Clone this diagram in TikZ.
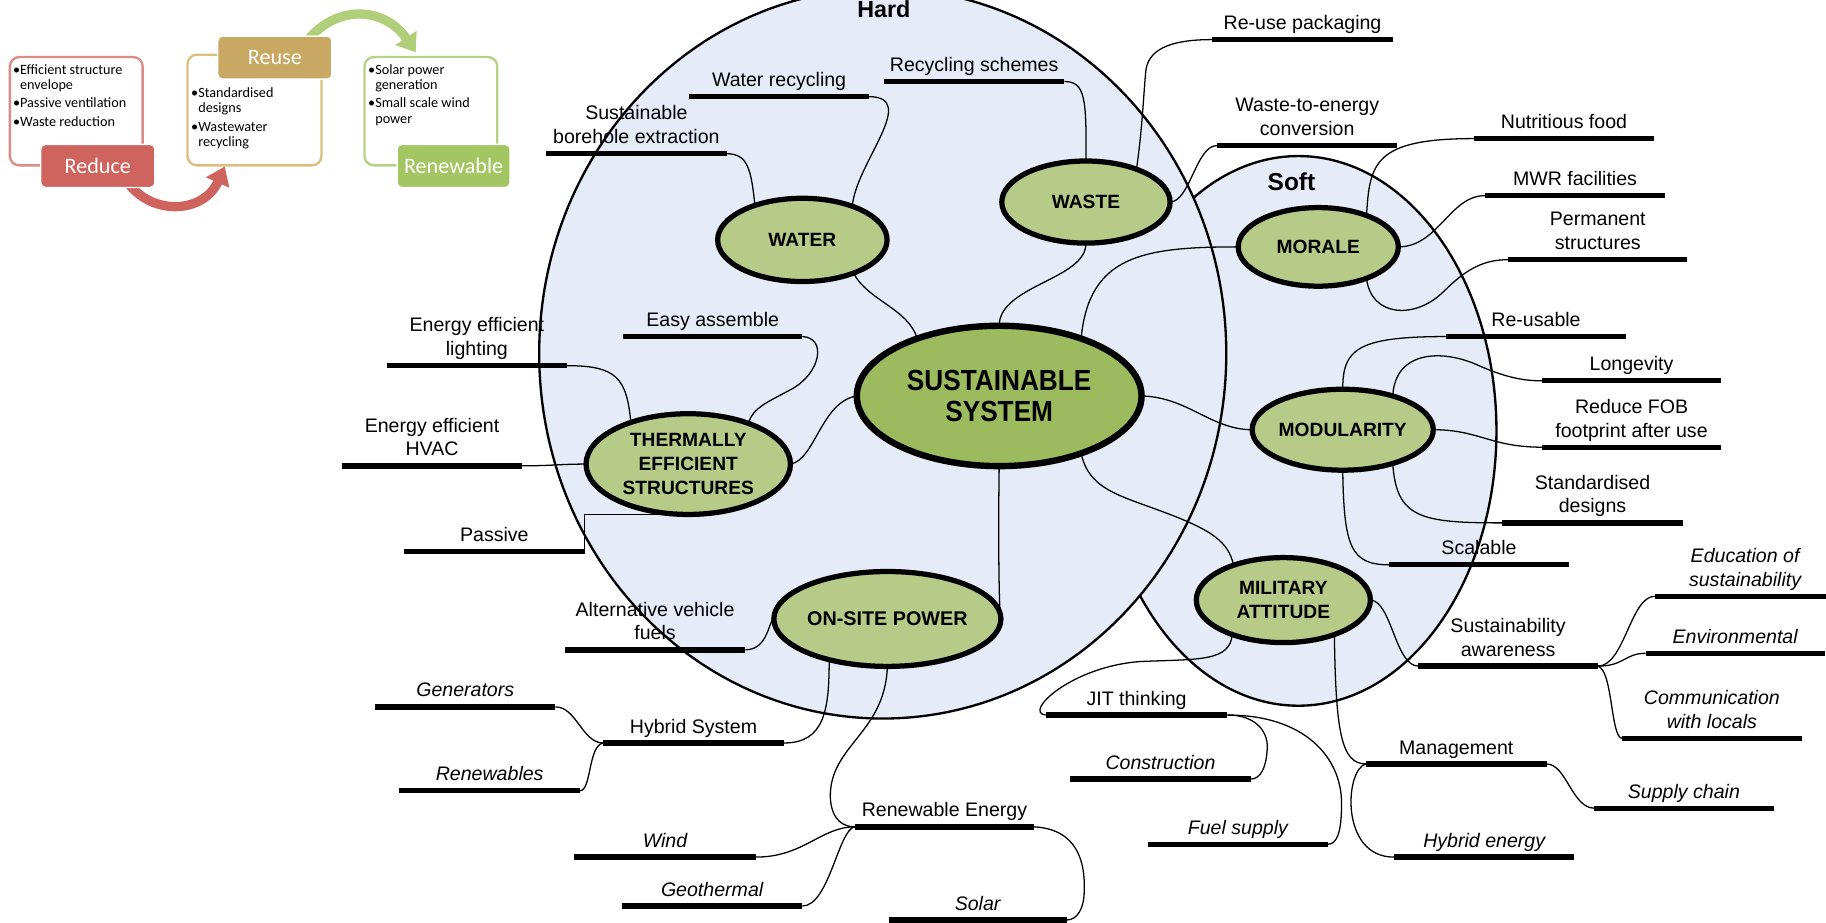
\documentclass[tikz,border=0pt]{standalone}
\usepackage{fontspec}
\setmainfont{Liberation Sans}
\newfontfamily\calfont{Carlito}
\newfontfamily\susfont[FakeStretch=0.9]{Liberation Sans}
\usetikzlibrary{shapes.geometric,arrows.meta}
\pgfdeclarelayer{bg}
\pgfdeclarelayer{mid}
\pgfsetlayers{bg,mid,main}
\definecolor{bgblue}{RGB}{229,236,247}
\definecolor{lgreen}{RGB}{183,203,137}
\definecolor{dgreen}{RGB}{156,187,94}
\definecolor{redf}{RGB}{207,99,94}
\definecolor{redo}{RGB}{220,140,136}
\definecolor{tanf}{RGB}{200,168,98}
\definecolor{tano}{RGB}{222,190,125}
\definecolor{grnf}{RGB}{163,198,99}
\definecolor{grno}{RGB}{181,211,131}
\tikzset{
  bar/.style={line width=4.6pt},
  lbl/.style={anchor=base, inner sep=0pt, font=\fontsize{16.8}{20.5}\selectfont},
  itlbl/.style={font=\fontsize{16.8}{20.5}\selectfont\itshape},
  conn/.style={line width=1.1pt},
  topic/.style={ellipse, draw, line width=4.5pt, fill=lgreen, inner sep=0pt, outer sep=0pt,
    align=center, font=\fontsize{16.5}{20.5}\selectfont\bfseries},
  region/.style={fill=bgblue, draw, line width=2pt},
  outbox/.style={line width=2pt, rounded corners=8pt, inner sep=0pt},
  headbox/.style={draw=white, line width=1.2pt, rounded corners=4pt, text=white, inner sep=0pt,
    minimum width=98pt, minimum height=37pt, font=\calfont\fontsize{19}{20}\selectfont},
  bul/.style={anchor=north west, align=left, inner sep=0pt, font=\calfont\fontsize{12.2}{13.2}\selectfont},
  bigarrow/.style={line width=8pt, -{Triangle[length=15pt,width=21pt]}},
}
\newcommand{\branchbar}[6]{%
  \coordinate (#1-l) at (#2,#4);
  \coordinate (#1-r) at (#3,#4);
  \draw[bar] (#1-l) -- (#1-r);
  \node[lbl,#5] (#1-t) at ({(#2+#3)/2},{#4-8.5}) {\begin{tabular}[b]{@{}c@{}}#6\end{tabular}};
}
\begin{document}
\begin{tikzpicture}[x=1pt,y=-1pt]
\useasboundingbox (0,0) rectangle (1568,792);
% regions
\begin{pgfonlayer}{bg}
  \fill[white] (0,0) rectangle (1568,792);
  \draw[region] (1115,370) ellipse [x radius=170, y radius=236];
  \draw[region] (758,303.6) ellipse [x radius=295, y radius=313.4];
\end{pgfonlayer}
\node[font=\bfseries\fontsize{20}{22}\selectfont, inner sep=0pt] (hardlbl) at (759,8) {Hard};
\node[font=\bfseries\fontsize{21}{22}\selectfont, inner sep=0pt] (softlbl) at (1109,156) {Soft};

% topic ellipses
\node[topic, fill=dgreen, line width=5.5pt, minimum width=244.5pt, minimum height=120.5pt,
  font=\susfont\fontsize{25}{27}\selectfont\bfseries] (sus) at (858,340) {SUSTAINABLE\\SYSTEM};
\node[topic, minimum width=145.5pt, minimum height=71.5pt] (water) at (689,206) {WATER};
\node[topic, minimum width=144.5pt, minimum height=70.5pt] (waste) at (932.5,173.5) {WASTE};
\node[topic, minimum width=137.5pt, minimum height=67.5pt] (morale) at (1132,212) {MORALE};
\node[topic, minimum width=175.5pt, minimum height=86.5pt] (therm) at (591,398.5) {THERMALLY\\EFFICIENT\\STRUCTURES};
\node[topic, minimum width=145.5pt, minimum height=69.5pt] (modul) at (1153,369) {MODULARITY};
\node[topic, minimum width=149.5pt, minimum height=73pt] (milit) at (1102,515.3) {MILITARY\\ATTITUDE};
\node[topic, minimum width=165.5pt, minimum height=81.5pt, font=\fontsize{17}{20}\selectfont\bfseries] (onsite) at (762,531.5) {ON-SITE POWER};

% branch bars
\branchbar{bore}{469}{624}{132}{}{Sustainable\\borehole extraction}
\branchbar{wrec}{592}{746}{83}{}{Water recycling}
\branchbar{rsch}{759}{914}{70}{}{Recycling schemes}
\branchbar{reuse}{1041}{1196}{34}{}{Re-use packaging}
\branchbar{wte}{1045}{1200}{125}{}{Waste-to-energy\\conversion}
\branchbar{nutr}{1266}{1420}{119}{}{Nutritious food}
\branchbar{mwr}{1275}{1430}{168}{}{MWR facilities}
\branchbar{perm}{1295}{1449}{223}{}{Permanent\\structures}
\branchbar{reus}{1242}{1396}{289}{}{Re-usable}
\branchbar{long}{1324}{1478}{327}{}{Longevity}
\branchbar{fob}{1324}{1478}{384}{}{Reduce FOB\\footprint after use}
\branchbar{std}{1290}{1445}{449}{}{Standardised\\designs}
\branchbar{scal}{1193}{1347}{485}{}{Scalable}
\branchbar{swa}{1218}{1372}{572}{}{Sustainability\\awareness}
\branchbar{edu}{1421}{1576}{512}{itlbl}{Education of\\sustainability}
\branchbar{env}{1413}{1567}{561}{itlbl}{Environmental}
\branchbar{comm}{1393}{1547}{634}{itlbl}{Communication\\with locals}
\branchbar{jit}{898}{1054}{614}{}{JIT thinking}
\branchbar{cons}{919}{1074}{669}{itlbl}{Construction}
\branchbar{fuel}{986}{1140}{725}{itlbl}{Fuel supply}
\branchbar{mgmt}{1173}{1328}{656}{}{Management}
\branchbar{sup}{1369}{1523}{694}{itlbl}{Supply chain}
\branchbar{hyen}{1197}{1352}{736}{itlbl}{Hybrid energy}
\branchbar{easy}{535}{689}{289}{}{Easy assemble}
\branchbar{light}{332}{487}{314}{}{Energy efficient\\lighting}
\branchbar{hvac}{294}{448}{400}{}{Energy efficient\\HVAC}
\branchbar{pass}{347}{502}{473.5}{}{Passive}
\branchbar{alt}{485}{640}{558}{}{Alternative vehicle\\fuels}
\branchbar{hyb}{518}{673}{638}{}{Hybrid System}
\branchbar{gen}{322}{477}{607}{itlbl}{Generators}
\branchbar{renw}{343}{498}{679}{itlbl}{Renewables}
\branchbar{renen}{734}{888}{710}{}{Renewable Energy}
\branchbar{wind}{493}{649}{736}{itlbl}{Wind}
\branchbar{geo}{534}{689}{778}{itlbl}{Geothermal}
\branchbar{solar}{763}{916}{790}{itlbl}{Solar}

% connectors
\begin{pgfonlayer}{mid}
\draw[conn] (bore-r) .. controls (642,132) and (645,145) .. (water.144);
\draw[conn] (wrec-r) .. controls (790,83) and (735,140) .. (water.34);
\draw[conn] (rsch-r) .. controls (932,70) and (933,85) .. (waste.north);
\draw[conn] (waste.33) .. controls (981,110) and (982,80) .. (984,60) .. controls (987,40) and (1010,34) .. (reuse-l);
\draw[conn] (waste.east) .. controls (1022,173) and (1027,125) .. (wte-l);
\draw[conn] (nutr-l) .. controls (1180,119) and (1176,140) .. (morale.33);
\draw[conn] (morale.east) .. controls (1235,212) and (1245,168) .. (mwr-l);
\draw[conn] (morale.-33) .. controls (1177,272) and (1215,275) .. (1240,250) .. controls (1260,230) and (1275,223) .. (perm-l);
\draw[conn] (sus.35) .. controls (935,220) and (980,212) .. (morale.west);
\draw[conn] (reus-l) .. controls (1165,289) and (1153,300) .. (modul.north);
\draw[conn] (modul.34) .. controls (1198,300) and (1240,300) .. (1270,314) .. controls (1295,325) and (1310,327) .. (long-l);
\draw[conn] (modul.east) .. controls (1270,369) and (1280,384) .. (fob-l);
\draw[conn] (modul.-34) .. controls (1199,445) and (1220,449) .. (std-l);
\draw[conn] (modul.south) .. controls (1154,470) and (1160,485) .. (scal-l);
\draw[conn] (sus.east) .. controls (1020,341) and (1040,369) .. (modul.west);
\draw[conn] (sus.-35) .. controls (935,420) and (960,425) .. (1000,440) .. controls (1040,455) and (1055,465) .. (milit.145);
\draw[conn] (milit.east) .. controls (1195,516) and (1198,572) .. (swa-l);
\draw[conn] (swa-r) .. controls (1395,572) and (1400,512) .. (edu-l);
\draw[conn] (swa-r) .. controls (1395,572) and (1395,561) .. (env-l);
\draw[conn] (swa-r) .. controls (1385,575) and (1383,634) .. (comm-l);
\draw[conn] (milit.214) .. controls (1056,568) and (1030,566) .. (980,568) .. controls (920,572) and (878,612) .. (jit-l);
\draw[conn] (jit-r) .. controls (1080,614) and (1090,630) .. (1088,645) .. controls (1087,660) and (1082,669) .. (cons-r);
\draw[conn] (jit-r) .. controls (1120,614) and (1152,650) .. (1152,690) .. controls (1152,715) and (1148,725) .. (fuel-r);
\draw[conn] (milit.-34) .. controls (1147,630) and (1152,656) .. (mgmt-l);
\draw[conn] (mgmt-r) .. controls (1345,656) and (1350,694) .. (sup-l);
\draw[conn] (mgmt-l) .. controls (1155,660) and (1150,736) .. (hyen-l);
\draw[conn] (easy-r) .. controls (710,290) and (705,320) .. (680,334) .. controls (660,345) and (646,350) .. (therm.34);
\draw[conn] (light-r) .. controls (530,314) and (538,325) .. (therm.144);
\draw[conn] (hvac-r) .. controls (475,400) and (480,398.5) .. (therm.west);
\draw[conn] (pass-r) |- (therm.south);
\draw[conn] (therm.east) .. controls (700,395) and (705,345) .. (sus.west);
\draw[conn] (water.-33) .. controls (745,258) and (780,265) .. (sus.145);
\draw[conn] (waste.south) .. controls (933,240) and (858,245) .. (sus.north);
\draw[conn] (sus.south) .. controls (857,470) and (858,530) .. (onsite.east);
\draw[conn] (alt-r) .. controls (660,558) and (660,532) .. (onsite.west);
\draw[conn] (onsite.215) .. controls (712,610) and (708,638) .. (hyb-r);
\draw[conn] (gen-r) .. controls (495,607) and (500,638) .. (hyb-l);
\draw[conn] (hyb-l) .. controls (505,640) and (508,679) .. (renw-r);
\draw[conn] (onsite.south) .. controls (760,630) and (712,640) .. (713,685) .. controls (714,705) and (725,710) .. (renen-l);
\draw[conn] (renen-l) .. controls (705,710) and (690,736) .. (wind-r);
\draw[conn] (renen-l) .. controls (720,712) and (712,778) .. (geo-r);
\draw[conn] (renen-r) .. controls (925,712) and (932,740) .. (931,765) .. controls (931,780) and (925,790) .. (solar-r);
\end{pgfonlayer}

% small 3R diagram
\node[outbox, draw=redo, minimum width=114pt, minimum height=93pt] (redbox) at (65.5,95.5) {};
\node[outbox, draw=tano, minimum width=115pt, minimum height=95pt] (reubox) at (218.5,94.5) {};
\node[outbox, draw=grno, minimum width=114pt, minimum height=93pt] (renbox) at (370,95.5) {};
\draw[bigarrow, redf] ([xshift=33pt,yshift=16pt]redbox.south) .. controls (106,186) and (172,190) .. ([xshift=33pt]reubox.south west);
\draw[bigarrow, grnf!85!white] ([xshift=29.5pt,yshift=-17pt]reubox.north) .. controls (272,0) and (328,2) .. ([xshift=-13pt,yshift=3pt]renbox.north);
\node[headbox, fill=redf] (reduce) at (84,142.5) {Reduce};
\node[headbox, fill=tanf] (reuse) at (236,49.5) {Reuse};
\node[headbox, fill=grnf, minimum width=97pt] (renew) at (389.5,142.5) {Renewable};
\node[bul] (redtxt) at (11,55) {•Efficient structure\\\phantom{•}envelope\\[2.5pt]•Passive ventilation\\[2.5pt]•Waste reduction};
\node[bul] (reutxt) at (164,75) {•Standardised\\\phantom{•}designs\\[2.5pt]•Wastewater\\\phantom{•}recycling};
\node[bul] (rentxt) at (316,55) {•Solar power\\\phantom{•}generation\\[2.5pt]•Small scale wind\\\phantom{•}power};
\end{tikzpicture}
\end{document}
